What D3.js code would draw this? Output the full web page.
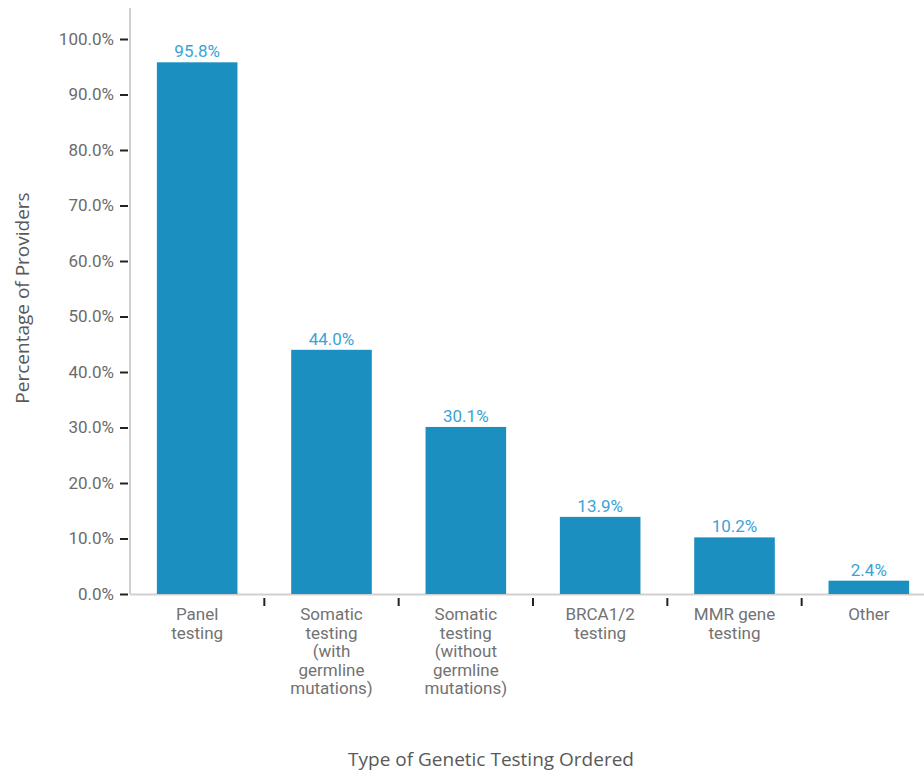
<!DOCTYPE html>
<html>
<head>
<meta charset="utf-8">
<script src="https://cdn.jsdelivr.net/npm/d3@7"></script>
<style>
  body { margin: 0; background: #fff; }
  svg { display: block; }
</style>
</head>
<body>
<svg id="chart" width="924" height="772"></svg>
<script>
// chart values
var categories = ["Panel testing", "Somatic testing (with germline mutations)",
  "Somatic testing (without germline mutations)", "BRCA1/2 testing", "MMR gene testing", "Other"];
var categoryLines = [
  ["Panel", "testing"],
  ["Somatic", "testing", "(with", "germline", "mutations)"],
  ["Somatic", "testing", "(without", "germline", "mutations)"],
  ["BRCA1/2", "testing"],
  ["MMR gene", "testing"],
  ["Other"]
];
var percentages = [95.8, 44.0, 30.1, 13.9, 10.2, 2.4];
var yTicks = [0, 10, 20, 30, 40, 50, 60, 70, 80, 90, 100];

var svg = d3.select("#chart");
var narrow = "Roboto, sans-serif";

var x = d3.scaleBand()
  .domain(categories)
  .range([130, 936])
  .paddingInner(0.4)
  .paddingOuter(0.2);

var y = d3.scaleLinear()
  .domain([0, 100])
  .range([594, 39]);

// y axis line
svg.append("line")
  .attr("x1", 130).attr("x2", 130)
  .attr("y1", 8).attr("y2", 594)
  .attr("stroke", "#d0d0d0").attr("stroke-width", 2);

// x baseline
svg.append("line")
  .attr("x1", 130).attr("x2", 924)
  .attr("y1", 594.5).attr("y2", 594.5)
  .attr("stroke", "#d0d0d0").attr("stroke-width", 2);

// y ticks
var yAxis = svg.append("g")
  .attr("transform", "translate(128,0)")
  .call(d3.axisLeft(y).tickValues(yTicks).tickSize(8).tickPadding(6)
    .tickFormat(function(d) { return d.toFixed(1) + "%"; }));
yAxis.select(".domain").remove();
yAxis.selectAll(".tick line").attr("stroke", "#222").attr("stroke-width", 2);
yAxis.selectAll(".tick text")
  .attr("fill", "#6b6b6b")
  .style("font-family", narrow)
  .style("font-size", "17px");

// category tick marks at band boundaries
var bounds = categories.slice(1).map(function(c) {
  return x(c) - x.step() * x.paddingInner() / 2;
});
svg.selectAll(".ctick")
  .data(bounds)
  .enter()
  .append("line")
  .attr("class", "ctick")
  .attr("x1", function(d) { return d; })
  .attr("x2", function(d) { return d; })
  .attr("y1", 598).attr("y2", 606)
  .attr("stroke", "#222").attr("stroke-width", 2);

// bars
svg.selectAll(".bar")
  .data(percentages)
  .enter()
  .append("rect")
  .attr("class", "bar")
  .attr("x", function(d, i) { return x(categories[i]); })
  .attr("y", function(d) { return y(d); })
  .attr("width", x.bandwidth())
  .attr("height", function(d) { return y(0) - y(d); })
  .attr("fill", "#1b8fc0");

// value labels
svg.selectAll(".val")
  .data(percentages)
  .enter()
  .append("text")
  .attr("class", "val")
  .attr("x", function(d, i) { return x(categories[i]) + x.bandwidth() / 2; })
  .attr("y", function(d) { return y(d) - 5; })
  .attr("text-anchor", "middle")
  .attr("fill", "#3aa3d6")
  .style("font-family", narrow)
  .style("font-size", "17px")
  .text(function(d) { return d.toFixed(1) + "%"; });

// category labels
var catG = svg.selectAll(".cat")
  .data(categoryLines)
  .enter()
  .append("text")
  .attr("class", "cat")
  .attr("text-anchor", "middle")
  .attr("fill", "#727272")
  .style("font-family", narrow)
  .style("font-size", "17px");
catG.selectAll("tspan")
  .data(function(d, i) { return d.map(function(t) { return { t: t, i: i }; }); })
  .enter()
  .append("tspan")
  .attr("x", function(d) { return x(categories[d.i]) + x.bandwidth() / 2; })
  .attr("y", function(d, j) { return 620 + j * 18.6; })
  .text(function(d) { return d.t; });

// axis titles
svg.append("text")
  .attr("transform", "translate(29,298) rotate(-90)")
  .attr("text-anchor", "middle")
  .attr("fill", "#595959")
  .style("font-family", "'Open Sans', sans-serif")
  .style("font-size", "19px")
  .text("Percentage of Providers");

svg.append("text")
  .attr("x", 491).attr("y", 766)
  .attr("text-anchor", "middle")
  .attr("fill", "#595959")
  .style("font-family", "'Open Sans', sans-serif")
  .style("font-size", "19px")
  .text("Type of Genetic Testing Ordered");
</script>
</body>
</html>
